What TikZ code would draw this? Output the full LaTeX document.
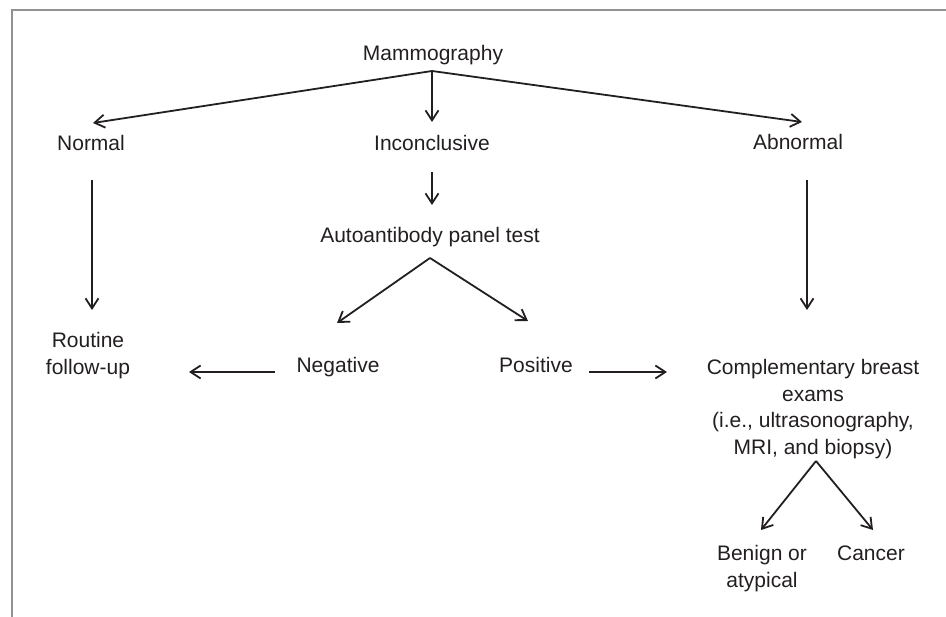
\documentclass[tikz,border=0pt]{standalone}
\usepackage{fontspec}
\setmainfont{Liberation Sans}
\usetikzlibrary{arrows.meta}
\definecolor{ink}{RGB}{35,31,32}
\definecolor{frame}{RGB}{145,145,145}
\begin{document}
\begin{tikzpicture}[x=1pt,y=-1pt,
  lbl/.style={inner sep=0pt, anchor=base, text=ink, font=\fontsize{21}{26.5}\selectfont},
  mlbl/.style={inner sep=0pt, anchor=north, align=center, text=ink, font=\fontsize{21}{26.5}\selectfont},
  arr/.style={draw=ink, line width=1.8pt, -{Straight Barb[length=10pt,width=13pt,line width=1.8pt]}}]
\useasboundingbox (0,0) rectangle (946,617);
% frame
\draw[frame, line width=2.6pt] (12,617) -- (12,10) -- (946,10);
% nodes
\node[lbl] (mam) at (433,60.5) {Mammography};
\node[lbl] (normal) at (91,150.5) {Normal};
\node[lbl] (inc) at (432,150.5) {Inconclusive};
\node[lbl] (abn) at (798,149.5) {Abnormal};
\node[lbl] (auto) at (430,242.5) {Autoantibody panel test};
\node[lbl] (neg) at (338,372.5) {Negative};
\node[lbl] (pos) at (536,372.5) {Positive};
\node[mlbl] (routine) at (88,332.5) {Routine\\follow-up};
\node[mlbl] (comp) at (813,359.5) {Complementary breast\\exams\\(i.e., ultrasonography,\\MRI, and biopsy)};
\node[mlbl] (benign) at (762,545.5) {Benign or\\atypical};
\node[lbl] (cancer) at (871,560.5) {Cancer};
% connector coordinates
\coordinate (mamA) at (432,71);
\coordinate (normalT) at (93,123);
\coordinate (incT) at (432,122);
\coordinate (abnT) at (802,122);
\coordinate (incB) at (432,172);
\coordinate (autoT) at (432,205);
\coordinate (autoA) at (430,258);
\coordinate (negT) at (337,323);
\coordinate (posT) at (528,321);
\coordinate (normalB) at (92,180);
\coordinate (routineR) at (92,310);
\coordinate (negL) at (275,372);
\coordinate (routineE) at (189,372);
\coordinate (posR) at (589,372);
\coordinate (compL) at (667,372);
\coordinate (abnB) at (807,180);
\coordinate (compT) at (807,310);
\coordinate (compA) at (816,461);
\coordinate (benignT) at (761,530);
\coordinate (cancerT) at (873,530);
% connectors
\draw[arr] (mamA) -- (normalT);
\draw[arr] (mamA) -- (incT);
\draw[arr] (mamA) -- (abnT);
\draw[arr] (incB) -- (autoT);
\draw[arr] (autoA) -- (negT);
\draw[arr] (autoA) -- (posT);
\draw[arr] (normalB) -- (routineR);
\draw[arr] (negL) -- (routineE);
\draw[arr] (posR) -- (compL);
\draw[arr] (abnB) -- (compT);
\draw[arr] (compA) -- (benignT);
\draw[arr] (compA) -- (cancerT);
\end{tikzpicture}
\end{document}
